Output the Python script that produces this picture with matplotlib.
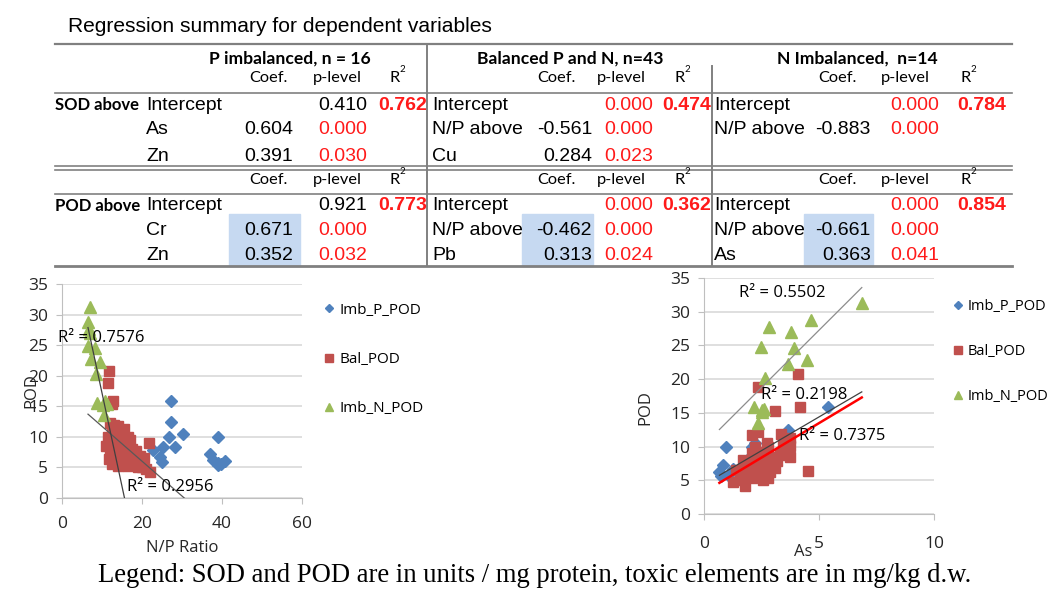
import numpy as np
import matplotlib.pyplot as plt
from matplotlib.lines import Line2D
from matplotlib.patches import Rectangle

W, H = 1052, 590

# ---- table content ----
title = 'Regression summary for dependent variables'
groups = ['P imbalanced, n = 16', 'Balanced P and N, n=43', 'N Imbalanced,  n=14']
sub_cols = ['Coef.', 'p-level', 'R']

sod_terms = [['Intercept', 'As', 'Zn'], ['Intercept', 'N/P above', 'Cu'], ['Intercept', 'N/P above']]
sod_coef = [['', '0.604', '0.391'], ['', '-0.561', '0.284'], ['', '-0.883']]
sod_p = [['0.410', '0.000', '0.030'], ['0.000', '0.000', '0.023'], ['0.000', '0.000']]
sod_r2 = ['0.762', '0.474', '0.784']

pod_terms = [['Intercept', 'Cr', 'Zn'], ['Intercept', 'N/P above', 'Pb'], ['Intercept', 'N/P above', 'As']]
pod_coef = [['', '0.671', '0.352'], ['', '-0.462', '0.313'], ['', '-0.661', '0.363']]
pod_p = [['0.921', '0.000', '0.032'], ['0.000', '0.000', '0.024'], ['0.000', '0.000', '0.041']]
pod_r2 = ['0.773', '0.362', '0.854']

# ---- scatter data (POD shared, x = N/P ratio or As) ----
imbp_pod = [15.8, 12.5, 10.5, 9.9, 9.9, 8.4, 8.4, 7.9, 7.2, 6.7, 6.2, 6.1, 5.9, 5.8, 5.6, 5.4]
imbp_np = [27.2, 27.2, 30.2, 26.8, 39.1, 25.3, 28.3, 22.8, 37.0, 24.5, 37.8, 40.7, 24.9, 39.1, 39.7, 39.1]
imbp_as = [5.41, 3.67, 2.22, 0.96, 2.07, 2.58, 2.0, 2.36, 0.84, 1.25, 0.67, 1.71, 1.86, 1.06, 0.75, 1.5]

bal_pod = [20.7, 18.8, 15.9, 15.3, 12.2, 11.9, 11.7, 11.3, 10.5, 10.2, 10.1, 10.0, 10.0, 9.5, 9.25,
           9.0, 9.0, 8.75, 8.5, 8.5, 8.5, 8.0, 7.8, 7.7, 7.5, 7.3, 7.2, 7.0, 6.8, 6.5, 6.4, 6.3,
           6.3, 6.3, 6.0, 5.8, 5.5, 5.3, 5.3, 5.0, 5.0, 4.8, 4.2]
bal_np = [11.8, 11.5, 12.8, 12.5, 12.0, 13.0, 14.0, 15.5, 12.5, 13.5, 14.5, 16.5, 11.5, 17.0, 15.5,
          21.7, 12.0, 14.0, 15.0, 16.0, 11.0, 17.5, 13.5, 18.5, 14.5, 16.0, 12.5, 12.0, 19.5, 20.5,
          13.0, 15.0, 17.0, 11.8, 13.5, 18.0, 12.5, 14.0, 16.5, 19.0, 20.0, 21.0, 22.0]
bal_as = [4.10, 2.33, 4.17, 3.09, 2.36, 3.35, 2.07, 3.74, 2.72, 3.45, 3.74, 2.80, 2.22, 3.67, 2.51,
          2.07, 3.38, 3.30, 3.74, 2.43, 2.94, 1.71, 3.16, 2.14, 2.72, 1.86, 3.0, 2.36, 3.09, 1.4,
          4.54, 2.87, 2.0, 2.58, 2.6, 1.57, 2.36, 2.80, 2.07, 2.58, 1.65, 1.27, 1.78]

imbn_pod = [31.3, 28.8, 27.7, 27.0, 24.8, 24.6, 22.8, 22.2, 20.2, 15.9, 15.6, 15.4, 15.2, 13.5]
imbn_np = [7.0, 6.5, 6.8, 7.0, 6.6, 8.3, 7.3, 9.6, 8.4, 10.8, 8.8, 11.2, 10.2, 10.4]
imbn_as = [6.86, 4.64, 2.84, 3.77, 2.49, 3.91, 4.49, 3.67, 2.65, 2.19, 2.6, 2.54, 2.5, 2.33]

series_names = ['Imb_P_POD', 'Bal_POD', 'Imb_N_POD']
left_r2_text = ['R² = 0.2956', 'R² = 0.7576']
right_r2_text = ['R² = 0.7375', 'R² = 0.2198', 'R² = 0.5502']
caption = 'Legend: SOD and POD are in units / mg protein, toxic elements are in mg/kg d.w.'


def fx(px):
    return px / W


def fy(py):
    return 1 - py / H


fig = plt.figure(figsize=(W / 100, H / 100), dpi=100)

# ---- table ----
VAL = 'Liberation Sans'
HEAD = 'Lato'
RED = '#ff1a1a'
GRID = '#808080'


def hline(y, x0=55, x1=1012, lw=1.6):
    fig.add_artist(Line2D([fx(x0), fx(x1)], [fy(y), fy(y)], color=GRID, lw=lw,
                          transform=fig.transFigure))


def vline(x, y0, y1, lw=1.4):
    fig.add_artist(Line2D([fx(x), fx(x)], [fy(y0), fy(y1)], color=GRID, lw=lw,
                          transform=fig.transFigure))


def txt(x, y, s, ha='left', **kw):
    fig.text(fx(x), fy(y), s, ha=ha, va='center', **kw)


txt(68, 26, title, family=VAL, fontsize=15.1)

hline(44)
hline(93, lw=1.2)
hline(166, lw=1.2)
hline(169.5, lw=1.2)
hline(194, lw=1.2)
hline(265.5, lw=2)
vline(427, 44, 266)
vline(712, 66, 266)

term_x = [146, 432, 714]
coef_x = [293, 592, 871]
p_x = [367, 653, 939]
r2_x = [427, 711, 1006]
head_x = [290, 570, 857]
sub_x = [[268, 337, 395], [556, 621, 680], [837, 905, 966]]
box_x = [(229, 300), (522, 593), (804, 873)]

for g in range(3):
    fig.add_artist(Rectangle((fx(box_x[g][0]), fy(266)), fx(box_x[g][1] - box_x[g][0]),
                             52 / H, transform=fig.transFigure, color='#c6d9f1', zorder=0))

txt(55, 105, 'SOD above', family=HEAD, fontsize=12, weight='bold')
txt(55, 206, 'POD above', family=HEAD, fontsize=12, weight='bold')

for g in range(3):
    txt(head_x[g], 59, groups[g], ha='center', family=HEAD, fontsize=12.6, weight='bold')
    for yy in (78, 180):
        for k, lab in enumerate(sub_cols):
            txt(sub_x[g][k], yy, lab, ha='center', family=HEAD, fontsize=11.8)
        txt(sub_x[g][2] + 7, yy - 9, '2', ha='center', family=HEAD, fontsize=7)

    for block, ys in ((0, [105, 130, 156]), (1, [206, 231, 255])):
        terms = [sod_terms, pod_terms][block][g]
        coefs = [sod_coef, pod_coef][block][g]
        ps = [sod_p, pod_p][block][g]
        r2 = [sod_r2, pod_r2][block][g]
        for i, t in enumerate(terms):
            txt(term_x[g], ys[i], t, family=VAL, fontsize=14)
            if coefs[i]:
                txt(coef_x[g], ys[i], coefs[i], ha='right', family=VAL, fontsize=14)
            col = RED if float(ps[i]) < 0.05 else 'black'
            txt(p_x[g], ys[i], ps[i], ha='right', family=VAL, fontsize=14, color=col)
        txt(r2_x[g], ys[0], r2, ha='right', family=VAL, fontsize=14, color=RED,
            weight='bold')

# ---- scatter plots ----
PF = 'Open Sans'
colors = ['#4f81bd', '#c0504d', '#9bbb59']
markers = ['D', 's', '^']
msizes = [6.5, 7.5, 8.5]
pods = [imbp_pod, bal_pod, imbn_pod]


def style_axes(ax, xlim, xticks, xpad):
    ax.set_xlim(*xlim)
    ax.set_ylim(0, 35)
    ax.set_xticks(xticks)
    ax.set_yticks(range(0, 36, 5))
    ax.yaxis.grid(True, color='#d9d9d9', lw=1.2)
    ax.set_axisbelow(True)
    for side in ('top', 'right'):
        ax.spines[side].set_visible(False)
    for side in ('left', 'bottom'):
        ax.spines[side].set_color('#bfbfbf')
    ax.tick_params(colors='#bfbfbf', labelcolor='#262626', labelsize=12.5, length=4)
    ax.tick_params(axis='x', pad=xpad)
    ax.tick_params(axis='y', pad=6)
    for lab in ax.get_xticklabels() + ax.get_yticklabels():
        lab.set_family(PF)


def trend(ax, x, y, xall, **kw):
    k, b = np.polyfit(x, y, 1)
    xs = np.array([min(xall), max(xall)])
    ax.plot(xs, k * xs + b, zorder=5, **kw)


# left: POD vs N/P ratio
axl = fig.add_axes([fx(62), fy(498), 240 / W, 214 / H])
left_x = [imbp_np, bal_np, imbn_np]
handles = []
for i in range(3):
    h, = axl.plot(left_x[i], pods[i], ls='none', marker=markers[i], ms=msizes[i],
                  color=colors[i], mec=colors[i], label=series_names[i], zorder=3)
    handles.append(h)
xall = sum(left_x, [])
trend(axl, bal_np, bal_pod, xall, color='#595959', lw=0.9)
trend(axl, imbn_np, imbn_pod, xall, color='#404040', lw=0.9)
style_axes(axl, (0, 60), [0, 20, 40, 60], 9)
axl.set_ylabel('POD', family=PF, fontsize=12, color='#262626')
axl.set_xlabel('N/P Ratio', family=PF, fontsize=12, color='#262626')
axl.yaxis.set_label_coords(-0.093, 0.5)
axl.xaxis.set_label_coords(0.5, -0.197)
axl.text(16.2, 1.8, left_r2_text[0], family=PF, fontsize=12, va='center', zorder=6)
axl.text(-1, 26.2, left_r2_text[1], family=PF, fontsize=12, va='center', zorder=6,
         clip_on=False)
axl.legend(handles=handles, loc='upper left', bbox_to_anchor=(fx(308), fy(289)),
           bbox_transform=fig.transFigure, frameon=False, labelspacing=2.25,
           handletextpad=0.25, handlelength=0.9, markerscale=0.7,
           prop={'family': PF, 'size': 11})

# right: POD vs As
axr = fig.add_axes([fx(704), fy(514), 230 / W, 236 / H])
right_x = [imbp_as, bal_as, imbn_as]
handles = []
for i in range(3):
    h, = axr.plot(right_x[i], pods[i], ls='none', marker=markers[i], ms=msizes[i],
                  color=colors[i], mec=colors[i], label=series_names[i], zorder=3)
    handles.append(h)
xall = sum(right_x, [])
trend(axr, imbp_as, imbp_pod, xall, color='#404040', lw=0.9)
trend(axr, bal_as, bal_pod, xall, color='#ff0000', lw=1.8)
trend(axr, imbn_as, imbn_pod, xall, color='#8c8c8c', lw=0.9)
style_axes(axr, (0, 10), [0, 5, 10], 12)
axr.set_ylabel('POD', family=PF, fontsize=12, color='#262626')
axr.set_xlabel('As', family=PF, fontsize=12, color='#262626')
axr.yaxis.set_label_coords(-0.22, 0.45)
axr.xaxis.set_label_coords(0.43, -0.125)
axr.text(4.13, 11.6, right_r2_text[0], family=PF, fontsize=12, va='center', zorder=6)
axr.text(2.48, 17.7, right_r2_text[1], family=PF, fontsize=12, va='center', zorder=6)
axr.text(1.52, 32.8, right_r2_text[2], family=PF, fontsize=12, va='center', zorder=6)
axr.legend(handles=handles, loc='upper left', bbox_to_anchor=(fx(938), fy(286)),
           bbox_transform=fig.transFigure, frameon=False, labelspacing=2.05,
           handletextpad=0.25, handlelength=0.9, markerscale=0.7,
           prop={'family': PF, 'size': 10.5})

fig.text(fx(535), fy(576), caption, ha='center', va='center',
         family='Liberation Serif', fontsize=19.2)

fig.savefig('out.png', dpi=100)
